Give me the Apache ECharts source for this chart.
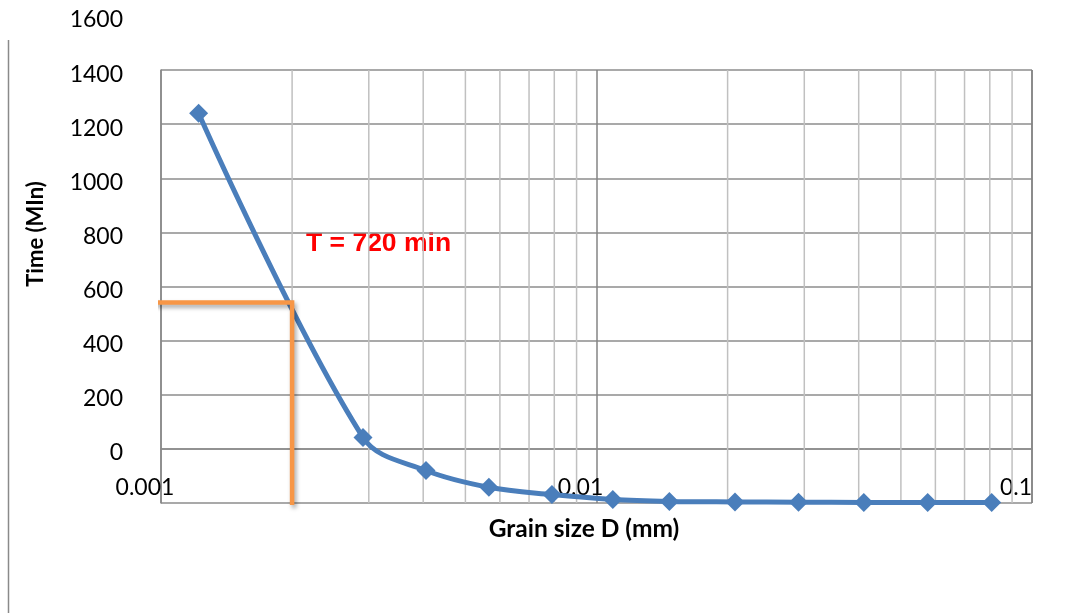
<!DOCTYPE html>
<html>
<head>
<meta charset="utf-8">
<script src="https://cdn.jsdelivr.net/npm/echarts@6/dist/echarts.min.js"></script>
<style>
  html, body { margin: 0; padding: 0; background: #ffffff; }
  #chart { width: 1079px; height: 613px; }
</style>
</head>
<body>
<div id="chart"></div>
<script>
// Hydrometer readings: grain size (mm) against elapsed time (min)
const grainSize = [0.00122, 0.00291, 0.00406, 0.00566, 0.0079, 0.0109, 0.0147, 0.0208, 0.0291, 0.0411, 0.0576, 0.0808];
const timeMin   = [1240, 42, -80, -142, -169, -187, -194, -196, -197, -198, -198, -198];

// Reading guide for the 720 min line
const guideD = 0.002;
const guideT = 541;
const guideStartD = 0.000959;
const guideEndT = -207;

// Axis ticks
const yTickValues = [0, 200, 400, 600, 800, 1000, 1200, 1400, 1600];
const xTickValues = [0.001, 0.01, 0.1];
const xTickLabels = ['0.001', '0.01', '0.1'];
const minorGrainLines = [0.002, 0.003, 0.004, 0.005, 0.006, 0.007, 0.008, 0.009,
                         0.02, 0.03, 0.04, 0.05, 0.06, 0.07, 0.08, 0.09];
const yMin = -200, yMax = 1400;

const labelFont = 'Lato, "Noto Sans", sans-serif';
const chart = echarts.init(document.getElementById('chart'), null, { renderer: 'canvas' });

const points = grainSize.map((d, i) => [d, timeMin[i]]);

// minor log gridlines (2..9 within each decade), one vertical segment each
const minorSeries = minorGrainLines.map(v => ({
  type: 'line', xAxisIndex: 0, yAxisIndex: 0, z: 1, silent: true,
  data: [[v, yMin], [v, yMax]],
  symbol: 'none',
  lineStyle: { color: '#c0c0c0', width: 1.5 },
  emphasis: { disabled: true },
  tooltip: { show: false }
}));

chart.setOption({
  animation: false,
  backgroundColor: '#ffffff',
  grid: [
    { left: 161, right: 47, top: 70, bottom: 110, containLabel: false },
    { left: 161, right: 47, top: 20, bottom: 106, containLabel: false }
  ],
  xAxis: [
    {
      type: 'log', logBase: 10, min: 0.001, max: 0.1, gridIndex: 0,
      axisLine: { show: true, lineStyle: { color: '#8a8a8a', width: 1.5 } },
      axisTick: { show: false },
      splitLine: { show: true, lineStyle: { color: '#858585', width: 1.5 } },
      axisLabel: {
        show: true, color: '#000', fontFamily: labelFont, fontSize: 23,
        margin: -15, verticalAlign: 'middle', align: 'center',
        padding: [0, 32, 0, 0],
        showMinLabel: true, showMaxLabel: true,
        formatter: (v) => {
          const i = xTickValues.findIndex(t => Math.abs(Math.log10(t) - Math.log10(v)) < 1e-6);
          return i >= 0 ? xTickLabels[i] : '';
        }
      }
    },
    { type: 'value', gridIndex: 1, show: false, min: 0, max: 1 }
  ],
  yAxis: [
    {
      type: 'value', min: yMin, max: yMax, interval: 200, gridIndex: 0,
      axisLine: { show: true, lineStyle: { color: '#8a8a8a', width: 1.5 } },
      axisTick: { show: false },
      axisLabel: { show: false },
      splitLine: { show: true, lineStyle: { color: '#8c8c8c', width: 1.5 } }
    },
    {
      type: 'value', min: -200, max: 1600, interval: 200, gridIndex: 1,
      axisLine: { show: false }, axisTick: { show: false }, splitLine: { show: false },
      axisLabel: {
        color: '#000', fontFamily: labelFont, fontSize: 23, margin: 38,
        formatter: (v) => yTickValues.includes(v) ? String(v) : ''
      }
    }
  ],
  series: minorSeries.concat([
    {
      name: 'Time',
      type: 'line', xAxisIndex: 0, yAxisIndex: 0, z: 3,
      data: points,
      smooth: 0.35,
      symbol: 'diamond', symbolSize: 19,
      lineStyle: { color: '#4a7ebb', width: 5 },
      itemStyle: { color: '#4a7ebb' }
    },
    {
      name: 'Guide',
      type: 'line', xAxisIndex: 0, yAxisIndex: 0, z: 4, clip: false,
      data: [[guideStartD, guideT], [guideD, guideT], [guideD, guideEndT]],
      symbol: 'none',
      lineStyle: {
        color: '#f79646', width: 4.5, cap: 'butt', join: 'miter',
        shadowColor: 'rgba(0,0,0,0.35)', shadowBlur: 4, shadowOffsetX: 2, shadowOffsetY: 3
      }
    }
  ]),
  graphic: [
    {
      type: 'line', silent: true,
      shape: { x1: 8.5, y1: 40, x2: 8.5, y2: 613 },
      style: { stroke: '#8a8a8a', lineWidth: 1.5 }
    },
    {
      type: 'text', silent: true, x: 584, y: 529,
      style: {
        text: 'Grain size D (mm)', fill: '#000', font: 'bold 24.5px ' + labelFont,
        align: 'center', verticalAlign: 'middle'
      }
    },
    {
      type: 'text', silent: true, x: 36, y: 234, rotation: Math.PI / 2,
      style: {
        text: 'Time (MIn)', fill: '#000', font: 'bold 22px ' + labelFont,
        align: 'center', verticalAlign: 'middle'
      }
    },
    {
      type: 'text', silent: true, x: 306, y: 244,
      style: {
        text: 'T = 720 min', fill: '#ff0000', font: 'bold 26.5px "Liberation Sans", Arial, sans-serif',
        align: 'left', verticalAlign: 'middle'
      }
    }
  ]
});
</script>
</body>
</html>
